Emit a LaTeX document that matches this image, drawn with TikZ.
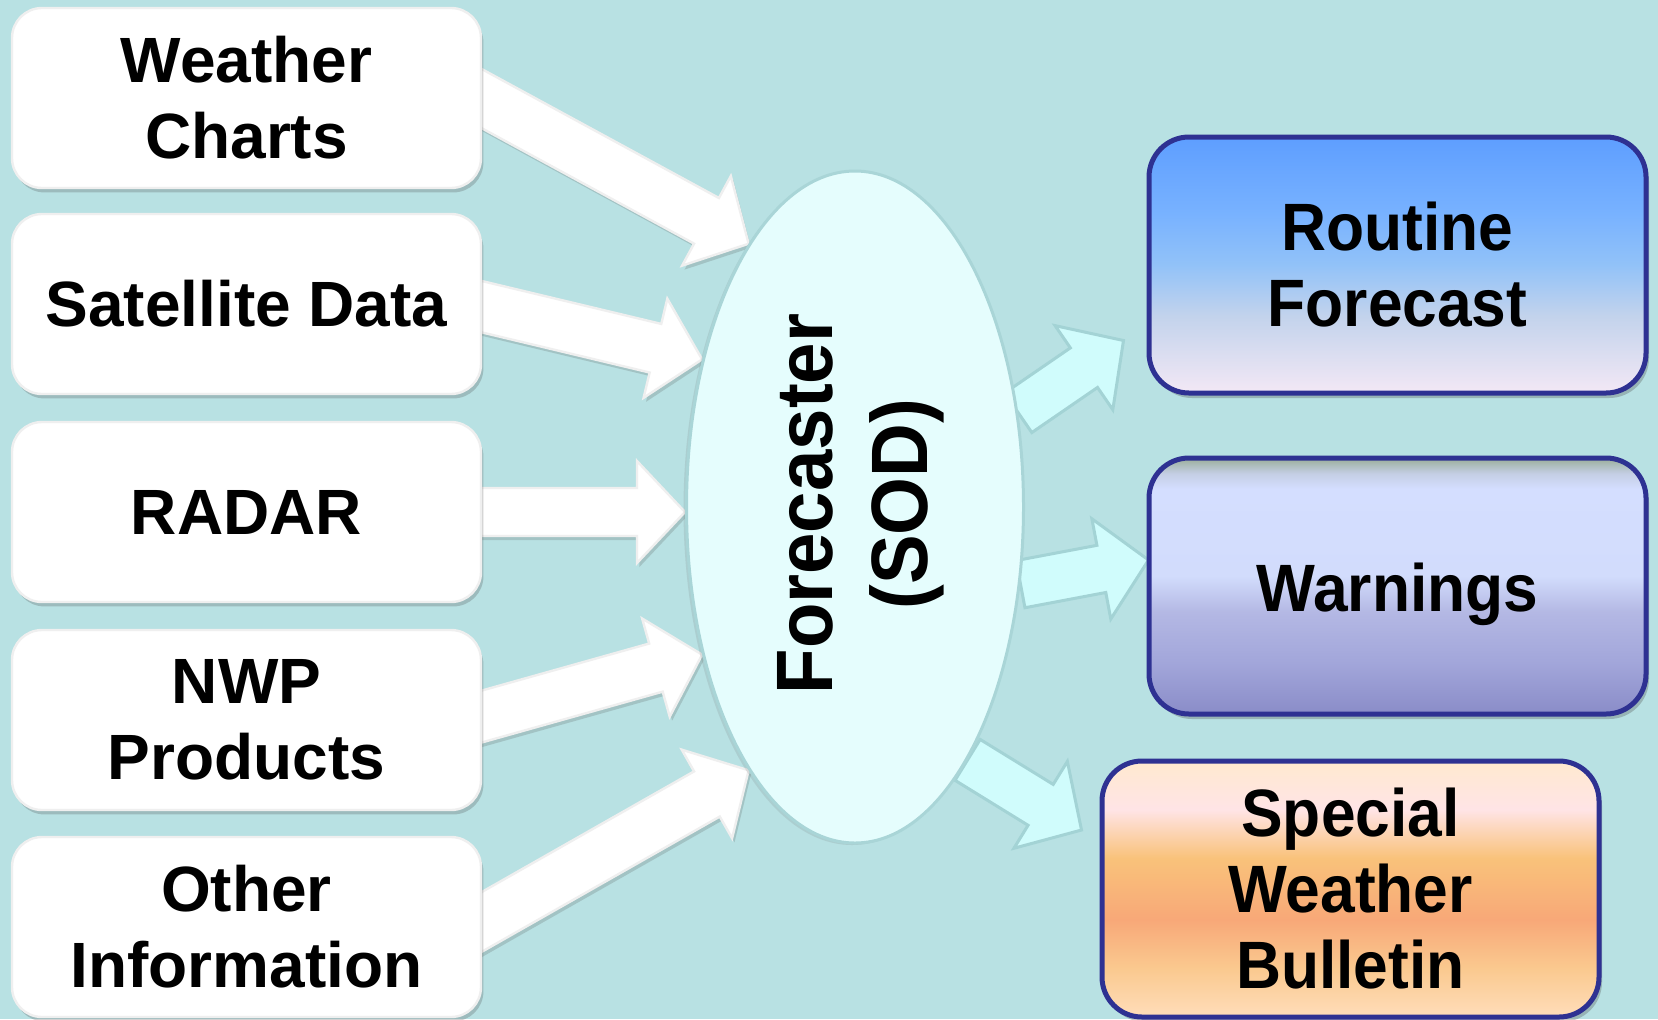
\documentclass[tikz,border=0pt]{standalone}
\usepackage{fontspec}
\setmainfont{Liberation Sans}
\newfontfamily\condfont{Liberation Sans}[FakeStretch=0.93]
\usetikzlibrary{shapes.geometric,shadows,calc}
\definecolor{bgc}{HTML}{B8E1E3}
\definecolor{lbord}{HTML}{EFEFEF}
\definecolor{rbord}{HTML}{2E3192}
\definecolor{ellf}{HTML}{E5FDFD}
\definecolor{ellb}{HTML}{A9D5D7}
\definecolor{rarrf}{HTML}{D0FCFC}
\definecolor{rarrb}{HTML}{A3D3D5}
% routine forecast shading
\definecolor{rfa}{HTML}{F3E8F5}
\definecolor{rfb}{HTML}{C3D3EC}
\definecolor{rfc}{HTML}{92C2F8}
\definecolor{rfd}{HTML}{78B2FF}
\definecolor{rfe}{HTML}{5E9EFF}
\pgfdeclareverticalshading{rfshade}{100bp}{color(0bp)=(rfa); color(25bp)=(rfa); color(40bp)=(rfb); color(50bp)=(rfc); color(60bp)=(rfd); color(75bp)=(rfe); color(100bp)=(rfe)}
% warnings shading
\definecolor{wa}{HTML}{8A8CC8}
\definecolor{wb}{HTML}{A2A6DA}
\definecolor{wc}{HTML}{B4B8E4}
\definecolor{wd}{HTML}{D2DCFC}
\definecolor{we}{HTML}{D4DEFF}
\definecolor{wf}{HTML}{C4CEE4}
\definecolor{wg}{HTML}{9AAE9A}
\pgfdeclareverticalshading{wshade}{100bp}{color(0bp)=(wa); color(25bp)=(wa); color(35bp)=(wb); color(45bp)=(wc); color(52bp)=(wd); color(69bp)=(we); color(72bp)=(wf); color(75bp)=(wg); color(100bp)=(wg)}
% special shading
\definecolor{sa}{HTML}{FFDDBA}
\definecolor{sb}{HTML}{FAC98F}
\definecolor{sc}{HTML}{F8A878}
\definecolor{sd}{HTML}{F9C27A}
\definecolor{se}{HTML}{FFE4E6}
\definecolor{sf}{HTML}{FFE9CF}
\pgfdeclareverticalshading{sshade}{100bp}{color(0bp)=(sa); color(25bp)=(sa); color(34.5bp)=(sb); color(44bp)=(sc); color(56bp)=(sd); color(65.5bp)=(se); color(75bp)=(sf); color(100bp)=(sf)}
\pgfdeclarelayer{bglayer}
\pgfdeclarelayer{arrlayer}
\pgfsetlayers{bglayer,arrlayer,main}
% #1 style, #2 tail, #3 tip, #4 half shaft width
\newcommand\blockarrow[4]{%
 \coordinate (bab) at ($(#3)!24pt!(#2)$);
 \draw[#1] ($(#2)!#4!90:(#3)$) -- ($(bab)!#4!-90:(#2)$) -- ($(bab)!25.5pt!-90:(#2)$) -- (#3) -- ($(bab)!25.5pt!90:(#2)$) -- ($(bab)!#4!90:(#2)$) -- ($(#2)!#4!-90:(#3)$) -- cycle;}
\begin{document}
\begin{tikzpicture}[x=0.5pt,y=-0.5pt,
  lbox/.style={draw=lbord, line width=1.2pt, fill=white, rounded corners=15pt,
    minimum width=234.5pt, minimum height=90pt, align=center, inner sep=0pt,
    font=\bfseries\fontsize{32}{38}\selectfont,
    drop shadow={shadow xshift=1.2pt, shadow yshift=-2.2pt, opacity=0.25, fill=black!70}},
  rbox/.style={draw=rbord, line width=2.5pt, rounded corners=20pt,
    minimum width=248.5pt, minimum height=128pt, align=center, inner sep=0pt,
    font=\condfont\bfseries\fontsize{33.5}{38}\selectfont,
    drop shadow={shadow xshift=1.5pt, shadow yshift=-2.5pt, opacity=0.3, fill=black!70}},
  rtext/.style={align=center, inner sep=0pt, font=\condfont\bfseries\fontsize{33.5}{38}\selectfont},
  larrow/.style={fill=white, draw=lbord, line width=1.2pt, line join=miter,
    drop shadow={shadow xshift=1.2pt, shadow yshift=-2pt, opacity=0.2, fill=black!70}},
  rarrow/.style={fill=rarrf, draw=rarrb, line width=1.5pt, line join=miter}]
\path[use as bounding box] (0,0) rectangle (1658,1019);
\begin{pgfonlayer}{bglayer}
\fill[bgc] (0,0) rectangle (1658,1019);
\end{pgfonlayer}
% input boxes
\node[lbox] (wch) at (246.5,98) {Weather\\Charts};
\node[lbox] (sat) at (246.5,304) {Satellite Data};
\node[lbox] (rad) at (246.5,512) {RADAR};
\node[lbox] (nwp) at (246.5,720) {NWP\\Products};
\node[lbox] (oth) at (246.5,927) {Other\\Information};
% forecaster
\node[ellipse, draw=ellb, line width=1.5pt, fill=ellf, minimum width=168.5pt,
  minimum height=336pt, inner sep=0pt,
  drop shadow={shadow xshift=-1.5pt, shadow yshift=-1pt, opacity=0.15, fill=black!60}] (fc) at (855,507) {};
\node[rotate=90, align=center, inner sep=0pt,
  font=\condfont\bfseries\fontsize{40}{47.5}\selectfont] (fct) at (861,504) {Forecaster\\(SOD)};
% output boxes
\node[rbox, shading=rfshade] (rf) at (1397.5,265) {Routine\\Forecast};
\node[rbox, shading=wshade] (ww) at (1397.5,586) {};
\node[rtext] (wwt) at ($(ww.center)+(0,8)$) {Warnings};
\node[rbox, shading=sshade] (sp) at (1350.5,889) {Special\\Weather\\Bulletin};
% connector end points
\coordinate (t1) at ($(wch.east)+(-20,-10)$);
\coordinate (t2) at ($(sat.east)+(-20,-2)$);
\coordinate (t3) at ($(rad.east)+(-20,0)$);
\coordinate (t4) at ($(nwp.east)+(-20,2)$);
\coordinate (t5) at ($(oth.east)+(-20,6)$);
\coordinate (p3) at (fc.west |- rad.east);
\coordinate (r1) at ($(rf.south west)+(-23,-55)$);
\coordinate (r2) at ($(ww.west)+(2,-26)$);
\coordinate (r3) at ($(sp.west)+(-18,-59)$);
\begin{pgfonlayer}{arrlayer}
\blockarrow{larrow}{t1}{fc.112}{13pt}
\blockarrow{larrow}{t2}{fc.136}{12.5pt}
\blockarrow{larrow}{t3}{p3}{12pt}
\blockarrow{larrow}{t4}{fc.224}{12.5pt}
\blockarrow{larrow}{t5}{fc.248}{13pt}
\blockarrow{rarrow}{fc.30}{r1}{12pt}
\blockarrow{rarrow}{fc.-25}{r2}{12pt}
\blockarrow{rarrow}{fc.-66}{r3}{12pt}
\end{pgfonlayer}
\end{tikzpicture}
\end{document}
